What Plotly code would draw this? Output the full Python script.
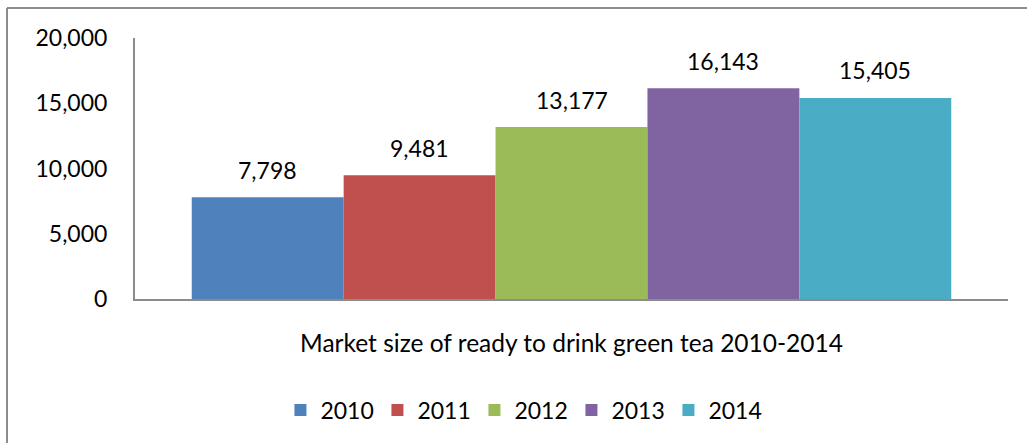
import plotly.graph_objects as go

category = ["Market size of ready to drink green tea 2010-2014"]
years = ["2010", "2011", "2012", "2013", "2014"]
values = [7798, 9481, 13177, 16143, 15405]
colors = ["#4F81BD", "#C0504D", "#9BBB59", "#8064A2", "#4BACC6"]

FONT = "Lato"
W, H = 1027, 443
ML, MR, MT, MB = 135, 19, 38, 144
BARGAP = 0.13

fig = go.Figure()
for yr, v, c in zip(years, values, colors):
    fig.add_trace(go.Bar(
        name=yr, x=category, y=[v], marker=dict(color=c, line=dict(width=0)),
    ))

# data labels placed above each bar in the group
plot_w = W - ML - MR
bar_px = plot_w * (1 - BARGAP) / len(years)
for i, v in enumerate(values):
    fig.add_annotation(
        x=category[0], y=v, xref="x", yref="y", text=f"{v:,}", showarrow=False,
        xshift=(i - (len(years) - 1) / 2) * bar_px, yshift=27.5, yanchor="middle",
        font=dict(size=23, color="black", family=FONT),
    )

fig.update_layout(
    width=W, height=H,
    margin=dict(l=ML, r=MR, t=MT, b=MB),
    paper_bgcolor="white", plot_bgcolor="white",
    barmode="group", bargap=BARGAP, bargroupgap=0,
    font=dict(family=FONT, size=23, color="black"),
    showlegend=True,
    legend=dict(orientation="h", x=0.1666, xanchor="left", y=-0.425, yanchor="middle",
                font=dict(size=23, family=FONT), entrywidth=52),
)
fig.update_yaxes(range=[0, 20000], dtick=5000, tickformat=",", showline=True,
                 linecolor="#8C8C8C", linewidth=2, showgrid=False, ticks="",
                 zeroline=False, ticklabelstandoff=21, tickfont=dict(size=23))
fig.update_xaxes(showline=True, linecolor="#8C8C8C", linewidth=2, ticks="",
                 showgrid=False, ticklabelstandoff=22, tickfont=dict(size=24.5))

x0 = (7 - ML) / plot_w
plot_h = H - MT - MB
y_top = (H - MB - 8) / plot_h
y_bot = (H - MB - 450) / plot_h
x_right = (1040 - ML) / plot_w
fig.add_shape(type="line", xref="paper", yref="paper", x0=x0, x1=x_right, y0=y_top, y1=y_top,
              line=dict(color="#8C8C8C", width=2))
fig.add_shape(type="line", xref="paper", yref="paper", x0=x0, x1=x0, y0=y_top, y1=y_bot,
              line=dict(color="#8C8C8C", width=2))

fig.write_html("out.html")
